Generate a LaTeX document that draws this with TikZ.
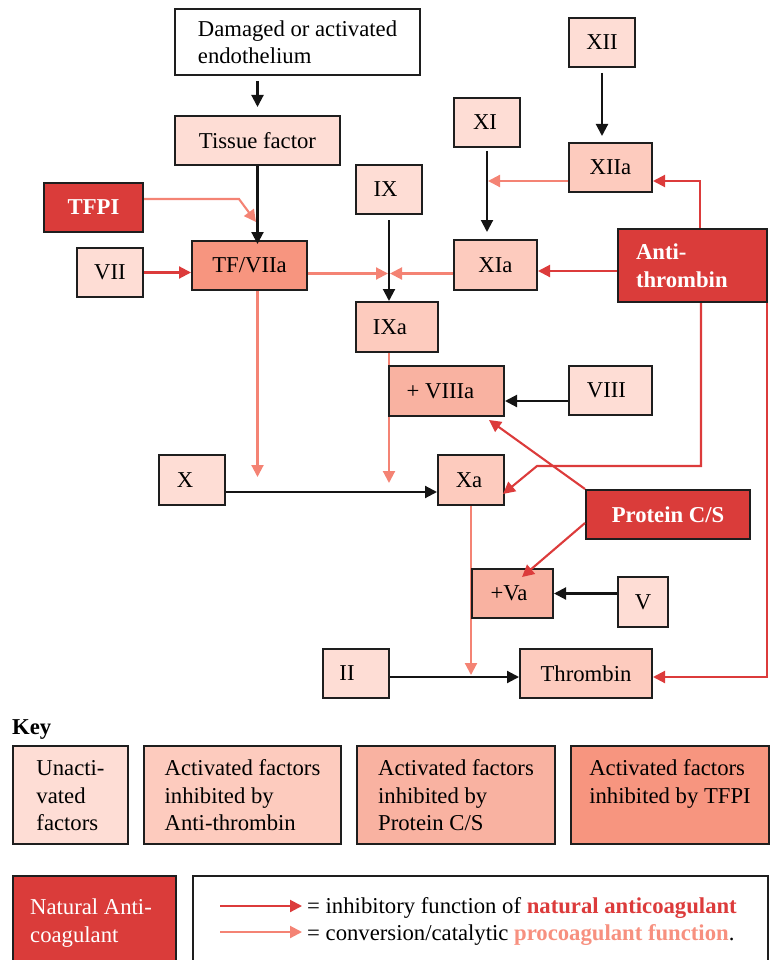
\documentclass[tikz,border=0pt]{standalone}
\usepackage{fontspec}
\setmainfont{Liberation Serif}
\usetikzlibrary{arrows.meta,calc}
\definecolor{unact}{HTML}{FEDDD5}
\definecolor{atinh}{HTML}{FDCBBE}
\definecolor{pcsinh}{HTML}{F9B2A1}
\definecolor{tfpiinh}{HTML}{F7957F}
\definecolor{natred}{HTML}{DA3C3A}
\definecolor{salarrow}{HTML}{F48374}
\definecolor{redarrow}{HTML}{DC3B3B}
\definecolor{saltext}{HTML}{F7907F}
\definecolor{boxline}{HTML}{1E1E1E}
\pgfdeclarelayer{background}
\pgfsetlayers{background,main}
\newcommand{\lsh}[1]{\hspace*{#1}}
\begin{document}
\begin{tikzpicture}[x=1pt,y=-1pt,
  every node/.style={font=\fontsize{22.7}{27.5}\selectfont},
  box/.style={draw=boxline, line width=2pt, inner sep=0pt, rectangle},
  ubox/.style={box, fill=unact, minimum width=66pt, minimum height=49pt},
  abox/.style={box, fill=atinh, minimum height=49pt},
  pbox/.style={box, fill=pcsinh, minimum height=49pt},
  tbox/.style={box, fill=tfpiinh, minimum height=49pt},
  nbox/.style={box, fill=natred, text=white, font=\fontsize{22.7}{27.5}\selectfont\bfseries},
  kbox/.style={box, anchor=north west, text height=29.5pt, text depth=68.5pt},
  tip/.style={-{Triangle[length=12pt,width=12pt]}},
  blk/.style={draw=black!92, line width=2.1pt, tip},
  sal/.style={draw=salarrow, line width=2.1pt, tip},
  inh/.style={draw=redarrow, line width=2.1pt, tip},
]
\useasboundingbox (0,0) rectangle (770,960);
\clip (0,0) rectangle (770,960);

% ---- nodes ----
\node[box, fill=white, minimum width=245pt, minimum height=66pt, align=left] (dam) at (297.5,42) {Damaged or activated\\endothelium};
\node[ubox, minimum width=165pt] (tissue) at (257.5,140.5) {Tissue factor};
\node[nbox, minimum width=99pt, minimum height=49pt] (tfpi) at (93.5,207.5) {TFPI};
\node[ubox] (vii) at (110,272.5) {VII};
\node[tbox, minimum width=115pt] (tfvii) at (249.5,265.5) {TF/VIIa};
\node[ubox] (ix) at (389,189.5) {IX\lsh{7pt}};
\node[abox, minimum width=82pt, minimum height=50pt] (ixa) at (397,327) {IXa\lsh{14pt}};
\node[ubox] (xi) at (487,122.5) {XI\lsh{4pt}};
\node[abox, minimum width=83pt, minimum height=50pt] (xia) at (495.5,265) {XIa};
\node[ubox] (xii) at (602,42.5) {XII};
\node[abox, minimum width=83pt] (xiia) at (610.5,167.5) {XIIa};
\node[nbox, minimum width=149pt, minimum height=73pt, text width=113pt, inner xsep=18pt, align=left] (at) at (692.5,265.5) {Anti-\\thrombin};
\node[pbox, minimum width=115pt, minimum height=50pt] (viiia) at (446.5,391) {+ VIIIa\lsh{12pt}};
\node[ubox, minimum width=83pt] (viii) at (610.5,390.5) {VIII\lsh{8pt}};
\node[ubox, minimum height=50pt] (x) at (192,480) {X\lsh{14pt}};
\node[abox, minimum width=66pt, minimum height=50pt] (xa) at (471,480) {Xa\lsh{4pt}};
\node[nbox, minimum width=164pt, minimum height=49pt] (pcs) at (668,514.5) {Protein C/S};
\node[pbox, minimum width=81pt] (va) at (512.5,593.5) {+Va\lsh{7pt}};
\node[ubox, minimum width=50pt, minimum height=50pt] (v) at (643,602) {V};
\node[ubox] (ii) at (356,673.5) {II\lsh{18pt}};
\node[abox, minimum width=132pt] (thr) at (586,673.5) {Thrombin};

% ---- connectors ----
\begin{pgfonlayer}{background}
\coordinate (ixend) at (389,483);
\draw[sal] (ix.south |- ixa.south) -- (ixend);
\coordinate (xaend) at (471,675);
\draw[sal] (xa.south) -- (xaend);
\end{pgfonlayer}

\draw[blk, shorten <=5pt, shorten >=8pt] (tissue.north |- dam.south) -- (tissue.north);
\draw[blk, shorten >=-4pt] (tissue.south) -- (tissue.south |- tfvii.north);

\coordinate (tfpibend) at (239,199);
\coordinate (tfpitip) at (256,222);
\draw[sal] ($(tfpi.east)+(0,-8.5)$) -- (tfpibend) -- (tfpitip);

\draw[inh] (vii.east) -- (vii.east -| tfvii.west);

\coordinate (jix) at (389,273.5);
\coordinate (jixl) at (388,273.5);
\coordinate (jixr) at (390,273.5);
\draw[sal] (tfvii.east |- jix) -- (jixl);
\draw[sal] (xia.west |- jix) -- (jixr);

\draw[blk, shorten <=5pt] (ix.south) -- (ix.south |- ixa.north);
\draw[blk, shorten <=3pt, shorten >=7pt] (xi.south) -- (xi.south |- xia.north);
\draw[blk, shorten <=5pt, shorten >=6pt] (xii.south) -- (xii.south |- xiia.north);

\coordinate (jxi) at (488,181);
\draw[sal] (xiia.west |- jxi) -- (jxi);

\draw[inh] ($(at.north)+(7.5,0)$) |- ($(xiia.east)+(0,13.5)$);

\coordinate (atw) at ($(at.west)+(0,5.5)$);
\draw[inh] (atw) -- (atw -| xia.east);

\coordinate (ats) at ($(at.south)+(8.5,0)$);
\coordinate (atbend) at (537,466);
\coordinate (xatip) at ($(xa.east)+(-2,14)$);
\draw[inh] (ats) |- (atbend) -- (xatip);

\draw[inh] ($(at.south east)+(-1,0)$) |- ($(thr.east)+(0,3.5)$);

\coordinate (tfend) at (257.5,477);
\draw[sal] (tissue.south |- tfvii.south) -- (tfend);

\coordinate (xin) at ($(x.east)+(0,12)$);
\draw[blk] (xin) -- (xin -| xa.west);

\coordinate (viiiw) at ($(viii.west)+(0,10.5)$);
\draw[blk] (viiiw) -- (viiiw -| viiia.east);

\coordinate (viiiatip) at ($(viiia.south east)+(-16,3)$);
\draw[inh] (pcs.north west) -- (viiiatip);

\coordinate (vatip) at ($(va.north)+(9.5,9)$);
\draw[inh] ($(pcs.west)+(0,8.5)$) -- (vatip);

\coordinate (vw) at ($(v.west)+(0,-8.5)$);
\draw[blk] (vw) -- (vw -| va.east);

\coordinate (iie) at ($(ii.east)+(0,3.5)$);
\draw[blk] (iie) -- (iie -| thr.west);

% ---- key ----
\node[anchor=base west, inner sep=0pt, font=\fontsize{22.7}{27.5}\selectfont\bfseries] (key) at (12,734) {Key};
\node[kbox, fill=unact, minimum width=115pt] (k1) at (12,745) {\begin{tabular}[t]{@{}l@{}}Unacti-\\vated\\factors\end{tabular}};
\node[kbox, fill=atinh, minimum width=197pt] (k2) at (143,745) {\begin{tabular}[t]{@{}l@{}}Activated factors\\inhibited by\\Anti-thrombin\end{tabular}};
\node[kbox, fill=pcsinh, minimum width=198pt] (k3) at (356,745) {\begin{tabular}[t]{@{}l@{}}Activated factors\\inhibited by\\Protein C/S\end{tabular}};
\node[kbox, fill=tfpiinh, minimum width=198pt] (k4) at (570,745) {\begin{tabular}[t]{@{}l@{}}Activated factors\\inhibited by TFPI\end{tabular}};

\node[box, fill=natred, text=white, anchor=north west, minimum width=163pt, text height=38.5pt, text depth=60pt] (nat) at (12,875) {\begin{tabular}[t]{@{}l@{}}Natural Anti-\\coagulant\end{tabular}\lsh{7pt}};
\node[box, fill=white, anchor=north west, minimum width=575pt, minimum height=100pt] (leg) at (192,875) {};

\coordinate (l1a) at (220,906);
\coordinate (l1b) at (302,906);
\coordinate (l2a) at (220,932);
\coordinate (l2b) at (302,932);
\draw[inh] (l1a) -- (l1b);
\draw[sal] (l2a) -- (l2b);
\node[anchor=base west, inner sep=0pt] (lt1) at (307,913.5) {= inhibitory function of \textcolor{redarrow}{\textbf{natural anticoagulant}}};
\node[anchor=base west, inner sep=0pt] (lt2) at (307,940) {= conversion/catalytic \textcolor{saltext}{\textbf{procoagulant function}}.};
\end{tikzpicture}
\end{document}
